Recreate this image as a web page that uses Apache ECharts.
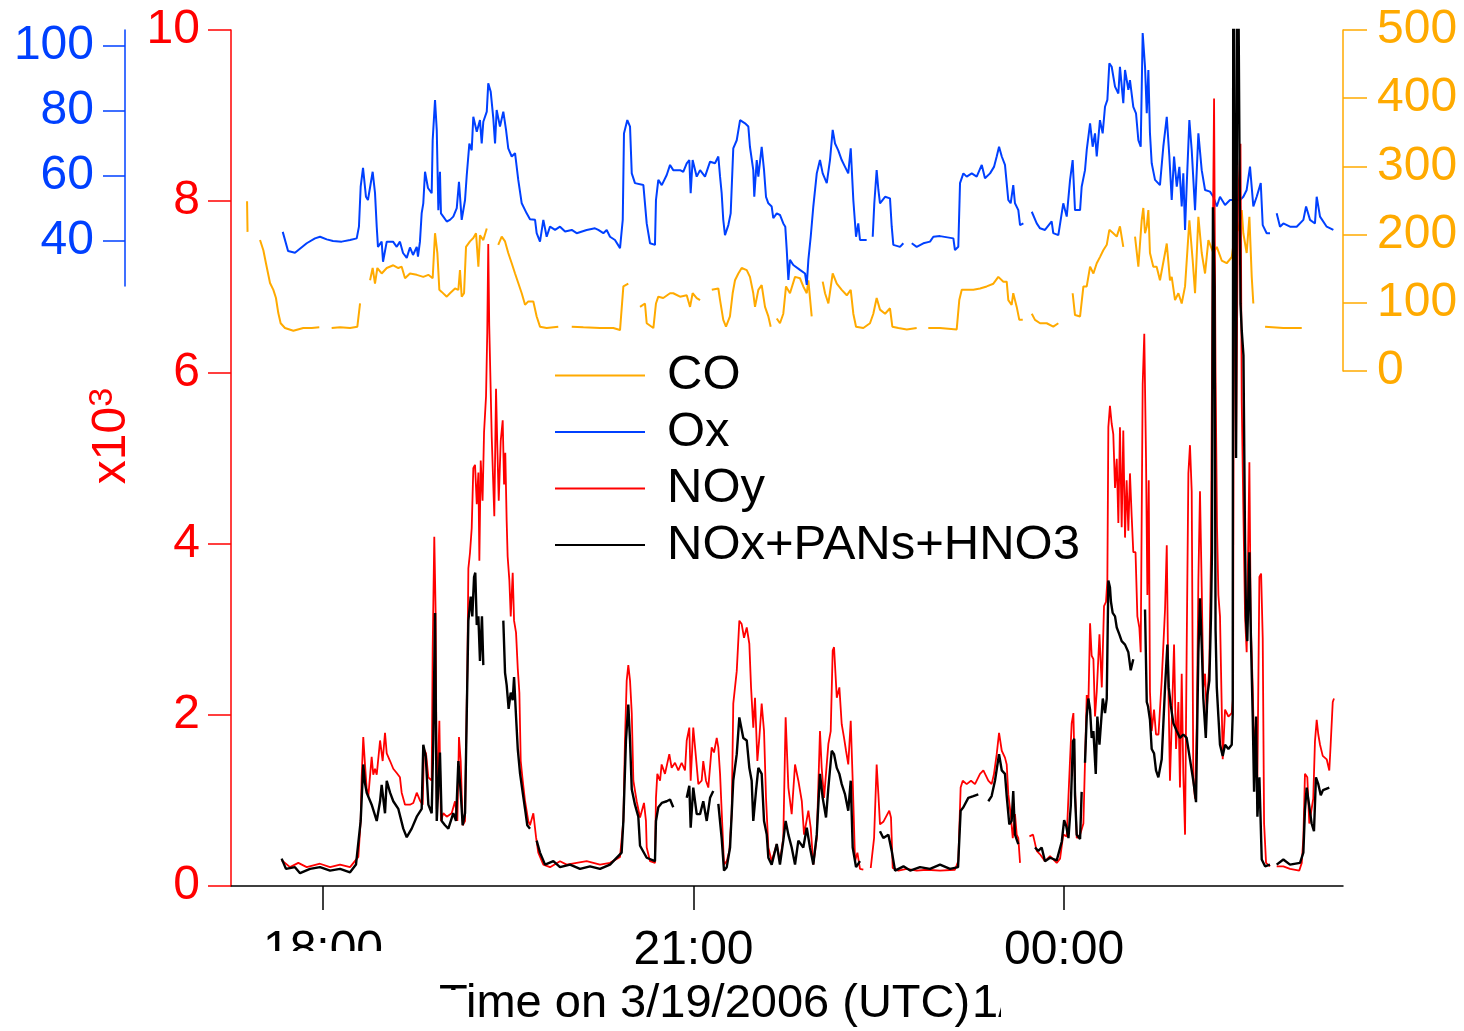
<!DOCTYPE html>
<html><head><meta charset="utf-8">
<script src="https://cdn.jsdelivr.net/npm/echarts@6/dist/echarts.min.js"></script>
<style>html,body{margin:0;padding:0;background:#fff}#c{width:1464px;height:1031px}</style>
</head><body><div id="c"></div>
<script>
// ---- data (time in decimal UTC hours of 3/19/2006; >24 = next day) ----
const xTicks = [18, 21, 24];
const xTickLabels = ['18:00', '21:00', '00:00'];
const noyTicks = [0, 2, 4, 6, 8, 10];
const oxTicks = [40, 60, 80, 100];
const coTicks = [0, 100, 200, 300, 400, 500];
const seriesNames = ['CO', 'Ox', 'NOy', 'NOx+PANs+HNO3'];

// CO (ppbv)
const coData = [[17.385,249],[17.389,204],[17.44,null],[17.490,192],[17.517,177],[17.538,158],[17.571,129],[17.598,119],[17.619,107],[17.638,85],[17.657,70],[17.692,63],[17.760,59],[17.840,63],[17.909,63],[17.970,64],[18.02,null],[18.070,63],[18.138,64],[18.219,63],[18.278,65],[18.300,99],[18.34,null],[18.381,133],[18.402,151],[18.421,128],[18.440,151],[18.475,143],[18.516,151],[18.569,155],[18.610,151],[18.637,153],[18.664,136],[18.704,143],[18.759,141],[18.812,138],[18.853,141],[18.888,136],[18.907,202],[18.926,173],[18.942,119],[18.961,116],[19.002,109],[19.028,114],[19.069,121],[19.096,119],[19.109,148],[19.123,109],[19.142,114],[19.158,182],[19.190,190],[19.217,195],[19.239,202],[19.258,153],[19.271,199],[19.298,192],[19.326,209],[19.37,null],[19.419,185],[19.447,197],[19.474,190],[19.500,173],[19.528,158],[19.555,143],[19.581,129],[19.609,114],[19.636,97],[19.662,102],[19.703,102],[19.730,80],[19.757,65],[19.811,63],[19.905,65],[19.96,null],[20.014,65],[20.108,64],[20.243,63],[20.351,63],[20.405,60],[20.432,124],[20.472,128],[20.52,null],[20.567,94],[20.607,99],[20.621,70],[20.675,63],[20.696,99],[20.715,109],[20.755,107],[20.810,114],[20.836,114],[20.891,109],[20.945,111],[20.972,94],[20.993,114],[21.026,107],[21.053,104],[21.10,null],[21.148,119],[21.201,121],[21.215,104],[21.241,75],[21.263,65],[21.295,80],[21.317,114],[21.336,133],[21.363,143],[21.390,151],[21.431,148],[21.457,138],[21.484,114],[21.498,94],[21.525,119],[21.552,126],[21.579,94],[21.606,80],[21.625,65],[21.65,null],[21.674,77],[21.700,70],[21.727,84],[21.749,124],[21.781,114],[21.822,138],[21.862,136],[21.889,124],[21.917,114],[21.930,133],[21.957,80],[22.00,null],[22.046,131],[22.065,114],[22.092,99],[22.127,143],[22.160,128],[22.200,119],[22.241,111],[22.273,119],[22.294,84],[22.316,65],[22.375,63],[22.429,70],[22.456,84],[22.483,107],[22.510,90],[22.551,84],[22.591,92],[22.610,65],[22.659,63],[22.727,61],[22.807,63],[22.85,null],[22.901,63],[22.996,63],[23.131,61],[23.152,104],[23.172,119],[23.225,119],[23.266,119],[23.320,121],[23.374,124],[23.428,128],[23.468,138],[23.509,131],[23.536,131],[23.549,104],[23.576,97],[23.589,114],[23.617,94],[23.638,75],[23.666,75],[23.70,null],[23.739,84],[23.765,75],[23.806,70],[23.860,70],[23.913,65],[23.954,70],[24.01,null],[24.070,114],[24.089,82],[24.130,80],[24.157,124],[24.184,124],[24.211,153],[24.238,143],[24.265,158],[24.291,167],[24.318,177],[24.346,185],[24.367,207],[24.399,202],[24.427,197],[24.453,212],[24.480,182],[24.53,null],[24.575,197],[24.602,153],[24.629,221],[24.642,239],[24.656,202],[24.670,212],[24.683,236],[24.696,173],[24.723,153],[24.750,153],[24.777,133],[24.818,173],[24.832,187],[24.858,133],[24.872,138],[24.899,104],[24.926,114],[24.953,99],[24.980,124],[25.015,221],[25.042,162],[25.061,114],[25.088,226],[25.115,173],[25.142,143],[25.169,192],[25.209,173],[25.237,182],[25.277,162],[25.317,158],[25.358,167],[25.385,202],[25.412,207],[25.439,236],[25.452,202],[25.479,173],[25.501,226],[25.520,138],[25.533,99],[25.58,null],[25.628,65],[25.776,63],[25.925,63]];

// Ox (ppbv)
const oxData = [[17.674,42.8],[17.717,36.9],[17.773,36.4],[17.868,39.3],[17.935,40.8],[17.976,41.3],[18.030,40.5],[18.081,40],[18.151,39.8],[18.219,40.3],[18.273,40.8],[18.291,44.4],[18.305,56.7],[18.324,62.5],[18.348,53.6],[18.364,52.6],[18.402,61.3],[18.421,54.8],[18.435,44.4],[18.445,38.2],[18.475,39.8],[18.486,33.6],[18.516,39.8],[18.567,39.8],[18.597,38.2],[18.623,39.8],[18.648,36.3],[18.678,34.8],[18.704,38],[18.729,35.7],[18.759,38.2],[18.769,35.2],[18.785,39.8],[18.799,48.6],[18.812,51.6],[18.826,61.3],[18.850,56.3],[18.880,54.7],[18.888,71],[18.907,83.4],[18.921,74.2],[18.934,49.5],[18.947,61.3],[18.955,48.5],[18.974,47.5],[19.002,46],[19.028,46.5],[19.055,47.5],[19.083,50.1],[19.101,58.2],[19.123,46.5],[19.150,52.6],[19.164,60.3],[19.185,70],[19.204,67.9],[19.217,78.2],[19.245,73.6],[19.271,77.2],[19.285,70],[19.298,76.7],[19.326,79.8],[19.338,88.5],[19.358,85.9],[19.379,77.7],[19.393,70],[19.406,80.3],[19.433,75.2],[19.460,79.8],[19.482,74.2],[19.500,68.5],[19.528,66],[19.555,67],[19.581,58.8],[19.609,51.6],[19.649,48.5],[19.676,46.7],[19.717,46.5],[19.730,42.4],[19.757,39.8],[19.784,46.5],[19.811,41.3],[19.838,44.4],[19.879,43.4],[19.919,44.4],[19.960,42.9],[20.014,43.4],[20.054,42.4],[20.135,43.4],[20.202,43.9],[20.229,43.4],[20.270,42.4],[20.297,43.4],[20.324,41.3],[20.364,40.3],[20.405,37.8],[20.427,46.5],[20.437,73.1],[20.464,77.2],[20.486,75.2],[20.500,60.8],[20.526,57.8],[20.594,57.2],[20.607,57.7],[20.621,45.4],[20.648,39.3],[20.688,38.8],[20.696,52.6],[20.715,58.8],[20.743,57.2],[20.783,60.3],[20.810,63.4],[20.836,61.8],[20.891,61.8],[20.917,61.3],[20.945,63.9],[20.966,64.9],[20.977,54.7],[20.993,64.9],[21.026,59.8],[21.053,61.8],[21.093,59.8],[21.134,64.4],[21.174,63.9],[21.201,66],[21.215,59.8],[21.228,54.7],[21.241,46.5],[21.255,41.8],[21.282,44.9],[21.301,48.5],[21.322,68.5],[21.350,71],[21.377,77.2],[21.417,76.2],[21.444,75.2],[21.457,69],[21.484,61.8],[21.492,53.6],[21.512,64.9],[21.525,59.8],[21.552,69],[21.571,61.8],[21.587,53.6],[21.606,51.6],[21.633,50.6],[21.646,47],[21.674,48.5],[21.700,48],[21.727,45.4],[21.743,44.4],[21.755,37.2],[21.768,28],[21.781,34.2],[21.808,32.6],[21.862,31.1],[21.903,30],[21.917,26.5],[21.930,34.2],[21.949,41.3],[21.970,50.6],[21.998,60.8],[22.024,64.9],[22.046,60.8],[22.079,57.8],[22.105,64.9],[22.127,74.2],[22.146,70],[22.172,67.9],[22.200,64.9],[22.227,62.8],[22.253,60.8],[22.273,68.5],[22.294,52.6],[22.316,41.3],[22.334,45.4],[22.348,40.3],[22.402,40.3],[22.43,null],[22.451,41.3],[22.464,51.6],[22.483,61.8],[22.497,55.7],[22.510,51.6],[22.551,53.6],[22.591,53.1],[22.605,44.4],[22.618,38.8],[22.672,38.2],[22.699,39.3],[22.73,null],[22.767,39.3],[22.807,38.2],[22.861,39.3],[22.915,39.8],[22.942,41.3],[22.996,41.5],[23.104,40.8],[23.117,37.2],[23.144,38.2],[23.158,57.8],[23.185,60.8],[23.212,59.8],[23.253,60.8],[23.293,59.8],[23.334,63.4],[23.360,59.3],[23.401,60.8],[23.433,62.8],[23.455,66],[23.474,69],[23.496,66],[23.522,63.4],[23.536,62.8],[23.549,52.6],[23.568,51.6],[23.589,57.2],[23.603,51.6],[23.630,49.5],[23.644,44.9],[23.671,45.4],[23.70,null],[23.739,49],[23.779,45.4],[23.806,43.9],[23.846,43.4],[23.900,46],[23.913,42.4],[23.954,41.8],[23.994,51.6],[24.022,47.5],[24.049,58.8],[24.070,64.9],[24.089,49.5],[24.130,49.5],[24.143,56.7],[24.170,61.8],[24.184,68],[24.211,76.2],[24.232,69],[24.251,73.1],[24.265,66],[24.291,77.2],[24.313,73.1],[24.332,81.3],[24.351,83.4],[24.367,94.7],[24.386,93.6],[24.413,87.5],[24.440,85.4],[24.453,93.6],[24.480,82.4],[24.494,92.6],[24.521,86.5],[24.534,89.5],[24.561,81.3],[24.583,79.3],[24.602,71],[24.621,69],[24.637,104],[24.656,93.6],[24.670,79.3],[24.683,92.6],[24.696,73.1],[24.710,63.9],[24.737,58.8],[24.777,57.2],[24.804,69],[24.832,78.2],[24.853,66],[24.872,52.6],[24.891,66],[24.913,56.7],[24.934,62.8],[24.953,50.6],[24.966,60.8],[24.980,43.4],[24.993,56.7],[25.015,77.2],[25.034,68],[25.061,49.5],[25.088,73.1],[25.115,61.8],[25.142,55.7],[25.182,55.2],[25.209,53.6],[25.237,50.6],[25.263,53.6],[25.304,51.1],[25.344,52.6],[25.385,52.6],[25.425,52.6],[25.452,53.6],[25.479,55.7],[25.506,62.9],[25.533,50.6],[25.560,53.6],[25.593,57.8],[25.609,44.9],[25.641,42.4],[25.668,42.4],[25.69,null],[25.722,48.5],[25.749,44.4],[25.776,45.4],[25.830,44.4],[25.884,44.4],[25.938,46.5],[25.960,50.6],[25.992,46.5],[26.032,45.4],[26.046,53.6],[26.073,47.5],[26.127,44.4],[26.181,43.4]];

// NOy (pptv / 1000)
const noyData = [[17.665,0.30],[17.733,0.22],[17.800,0.27],[17.868,0.22],[17.976,0.26],[18.057,0.22],[18.138,0.25],[18.219,0.22],[18.286,0.34],[18.305,0.76],[18.313,1.27],[18.326,1.74],[18.340,1.42],[18.354,1.13],[18.367,1.05],[18.394,1.51],[18.407,1.30],[18.421,1.37],[18.435,1.30],[18.462,1.70],[18.483,1.46],[18.502,1.79],[18.516,1.55],[18.543,1.46],[18.569,1.37],[18.597,1.32],[18.623,1.27],[18.637,1.09],[18.664,0.95],[18.704,0.95],[18.731,0.97],[18.759,1.09],[18.785,1.00],[18.807,0.95],[18.818,1.60],[18.834,1.55],[18.853,1.27],[18.880,1.23],[18.888,2.77],[18.901,4.08],[18.912,3.19],[18.921,0.90],[18.942,1.93],[18.955,0.76],[18.974,0.85],[19.002,0.81],[19.042,0.85],[19.069,0.99],[19.088,0.76],[19.101,1.74],[19.115,1.46],[19.131,0.71],[19.150,0.76],[19.164,2.16],[19.169,2.54],[19.177,3.71],[19.190,3.89],[19.204,4.18],[19.217,4.88],[19.231,4.92],[19.245,4.46],[19.258,4.83],[19.266,3.80],[19.277,4.97],[19.292,4.50],[19.304,5.30],[19.320,5.72],[19.330,6.47],[19.338,7.50],[19.346,6.55],[19.366,5.25],[19.387,4.32],[19.401,5.81],[19.411,5.16],[19.423,4.50],[19.439,5.20],[19.455,5.44],[19.466,4.69],[19.476,5.06],[19.487,4.27],[19.495,3.85],[19.509,3.57],[19.520,3.15],[19.536,3.66],[19.547,3.10],[19.563,2.96],[19.577,2.54],[19.590,2.26],[19.601,1.46],[19.617,1.23],[19.636,0.99],[19.662,0.76],[19.676,0.71],[19.703,0.85],[19.725,0.57],[19.743,0.39],[19.784,0.25],[19.838,0.22],[19.919,0.29],[19.973,0.25],[20.054,0.27],[20.135,0.29],[20.243,0.25],[20.324,0.27],[20.405,0.34],[20.432,0.76],[20.445,1.70],[20.459,2.40],[20.472,2.58],[20.486,2.40],[20.500,2.02],[20.513,1.23],[20.540,0.99],[20.567,0.80],[20.599,0.97],[20.615,0.76],[20.621,0.45],[20.648,0.29],[20.688,0.27],[20.696,1.03],[20.707,1.31],[20.729,1.23],[20.742,1.42],[20.769,1.31],[20.804,1.54],[20.823,1.38],[20.850,1.44],[20.877,1.35],[20.904,1.44],[20.931,1.35],[20.945,1.70],[20.966,1.85],[20.977,1.23],[20.998,1.85],[21.020,1.50],[21.039,1.19],[21.066,1.23],[21.079,1.46],[21.101,1.23],[21.120,1.15],[21.147,1.62],[21.166,1.56],[21.188,1.73],[21.201,1.62],[21.215,1.31],[21.228,0.88],[21.247,0.25],[21.269,0.29],[21.290,0.41],[21.309,0.84],[21.322,2.13],[21.350,2.51],[21.371,3.10],[21.390,3.06],[21.409,2.90],[21.431,3.02],[21.452,2.83],[21.466,2.32],[21.484,1.85],[21.498,2.20],[21.517,1.46],[21.533,1.73],[21.552,2.13],[21.571,1.81],[21.587,1.03],[21.606,0.45],[21.633,0.29],[21.674,0.49],[21.700,0.29],[21.727,0.56],[21.746,1.97],[21.768,1.15],[21.795,0.84],[21.822,1.42],[21.849,1.23],[21.877,0.99],[21.895,0.60],[21.930,0.88],[21.949,0.68],[21.970,0.25],[21.998,0.56],[22.024,1.81],[22.038,1.38],[22.057,1.03],[22.092,1.66],[22.111,1.81],[22.127,2.75],[22.138,2.79],[22.160,2.20],[22.181,2.32],[22.200,1.89],[22.219,1.73],[22.235,1.58],[22.253,1.42],[22.273,1.93],[22.289,1.23],[22.308,0.29],[22.327,0.39],[22.348,0.20],[22.375,0.19],[22.40,null],[22.435,0.21],[22.462,0.56],[22.483,1.42],[22.497,1.07],[22.510,0.72],[22.537,0.75],[22.585,0.88],[22.599,0.80],[22.613,0.21],[22.659,0.18],[22.727,0.20],[22.807,0.18],[22.888,0.19],[22.996,0.18],[23.117,0.19],[23.144,0.29],[23.163,1.15],[23.180,1.23],[23.212,1.19],[23.247,1.23],[23.279,1.19],[23.320,1.31],[23.347,1.35],[23.387,1.23],[23.414,1.19],[23.433,1.31],[23.455,1.54],[23.474,1.79],[23.496,1.58],[23.522,1.50],[23.536,1.42],[23.549,1.07],[23.568,0.84],[23.585,0.56],[23.603,0.84],[23.617,0.60],[23.630,0.56],[23.644,0.27],[23.68,null],[23.720,0.58],[23.749,0.60],[23.779,0.41],[23.806,0.37],[23.846,0.29],[23.887,0.35],[23.941,0.27],[23.968,0.32],[23.994,0.60],[24.022,0.58],[24.049,1.48],[24.062,1.90],[24.076,2.02],[24.089,1.15],[24.103,0.56],[24.130,0.60],[24.157,0.73],[24.184,2.23],[24.197,2.10],[24.211,3.07],[24.224,2.69],[24.238,2.65],[24.251,1.98],[24.265,2.27],[24.287,2.94],[24.306,2.32],[24.324,3.27],[24.340,3.32],[24.351,3.57],[24.359,5.36],[24.372,5.61],[24.386,5.40],[24.399,5.28],[24.413,4.65],[24.427,4.99],[24.440,4.24],[24.453,5.36],[24.467,4.19],[24.480,5.32],[24.494,4.07],[24.507,4.74],[24.521,4.15],[24.534,4.82],[24.548,4.32],[24.561,3.90],[24.579,3.90],[24.594,3.15],[24.610,3.02],[24.621,2.73],[24.637,5.86],[24.650,6.45],[24.664,5.00],[24.675,3.40],[24.686,4.74],[24.696,2.27],[24.710,1.81],[24.729,2.06],[24.745,1.77],[24.765,1.77],[24.791,2.40],[24.818,3.23],[24.832,3.98],[24.845,2.32],[24.858,1.23],[24.872,1.90],[24.891,2.82],[24.907,1.60],[24.926,2.15],[24.939,1.15],[24.953,2.48],[24.966,1.31],[24.980,0.60],[24.993,2.73],[25.007,4.82],[25.020,5.15],[25.034,4.61],[25.047,1.23],[25.061,1.02],[25.075,1.90],[25.088,3.57],[25.101,4.61],[25.115,3.49],[25.128,2.32],[25.142,2.48],[25.155,2.02],[25.177,2.61],[25.190,3.90],[25.202,7.00],[25.215,9.20],[25.227,6.00],[25.239,4.20],[25.250,3.40],[25.263,3.15],[25.285,1.48],[25.304,2.06],[25.331,1.98],[25.358,2.02],[25.369,2.20],[25.377,9.00],[25.393,5.00],[25.409,8.00],[25.429,8.67],[25.439,5.66],[25.452,4.40],[25.466,3.15],[25.479,2.73],[25.501,4.95],[25.512,3.07],[25.528,2.32],[25.539,1.60],[25.555,1.90],[25.566,1.27],[25.582,3.61],[25.596,3.65],[25.609,2.90],[25.620,0.73],[25.636,0.27],[25.668,0.23],[25.69,null],[25.722,0.23],[25.776,0.23],[25.830,0.20],[25.905,0.18],[25.925,0.27],[25.938,0.56],[25.951,1.31],[25.970,1.27],[25.986,0.73],[26.018,1.02],[26.032,1.69],[26.046,1.94],[26.059,1.77],[26.073,1.65],[26.095,1.52],[26.127,1.48],[26.148,1.35],[26.159,1.65],[26.176,2.15],[26.186,2.19]];

// NOx+PANs+HNO3 (pptv / 1000)
const sumData = [[17.665,0.32],[17.700,0.20],[17.773,0.22],[17.814,0.15],[17.895,0.20],[17.976,0.22],[18.057,0.18],[18.138,0.20],[18.219,0.16],[18.267,0.25],[18.305,0.76],[18.326,1.42],[18.340,1.20],[18.354,1.09],[18.394,0.95],[18.435,0.76],[18.462,0.99],[18.475,1.18],[18.502,0.85],[18.516,1.23],[18.543,1.09],[18.569,0.99],[18.610,0.90],[18.650,0.67],[18.678,0.57],[18.718,0.67],[18.759,0.81],[18.799,0.90],[18.812,1.65],[18.832,1.51],[18.853,0.95],[18.880,0.85],[18.893,1.70],[18.907,3.19],[18.921,0.76],[18.947,1.56],[18.961,0.76],[18.988,0.71],[19.015,0.67],[19.055,0.85],[19.077,0.76],[19.096,1.46],[19.115,1.09],[19.131,0.71],[19.150,0.85],[19.164,2.02],[19.177,3.10],[19.196,3.38],[19.209,3.15],[19.223,3.61],[19.233,3.66],[19.245,3.05],[19.258,3.15],[19.271,2.63],[19.287,3.15],[19.298,2.58],[19.37,null],[19.460,3.10],[19.474,2.49],[19.487,2.35],[19.503,2.07],[19.520,2.26],[19.536,2.17],[19.547,2.44],[19.563,1.98],[19.577,1.60],[19.595,1.32],[19.617,1.09],[19.636,0.90],[19.654,0.71],[19.676,0.67],[19.70,null],[19.730,0.53],[19.757,0.39],[19.798,0.25],[19.865,0.29],[19.919,0.22],[20.000,0.25],[20.081,0.20],[20.162,0.23],[20.243,0.20],[20.324,0.25],[20.418,0.39],[20.432,0.76],[20.453,1.70],[20.472,2.12],[20.486,1.70],[20.500,1.13],[20.526,0.95],[20.553,0.81],[20.567,0.47],[20.621,0.33],[20.688,0.29],[20.696,0.76],[20.715,0.92],[20.743,0.97],[20.783,0.99],[20.810,1.01],[20.836,0.92],[20.89,null],[20.945,1.03],[20.966,1.17],[20.977,0.68],[20.998,1.15],[21.026,0.84],[21.053,0.84],[21.079,0.99],[21.107,0.76],[21.134,1.03],[21.160,1.11],[21.18,null],[21.201,0.96],[21.228,0.56],[21.247,0.18],[21.269,0.22],[21.296,0.45],[21.322,1.23],[21.350,1.54],[21.371,1.97],[21.403,1.73],[21.431,1.70],[21.452,1.38],[21.471,1.23],[21.484,0.76],[21.506,1.11],[21.525,1.38],[21.552,1.31],[21.571,0.76],[21.593,0.60],[21.606,0.33],[21.633,0.25],[21.674,0.49],[21.700,0.25],[21.727,0.53],[21.746,0.76],[21.768,0.60],[21.795,0.45],[21.822,0.25],[21.849,0.53],[21.889,0.45],[21.917,0.68],[21.943,0.45],[21.970,0.25],[21.998,0.60],[22.024,1.31],[22.046,1.03],[22.073,0.80],[22.092,1.15],[22.119,1.58],[22.138,1.54],[22.160,1.38],[22.181,1.31],[22.200,1.19],[22.227,1.07],[22.253,0.88],[22.273,1.23],[22.289,0.45],[22.316,0.22],[22.348,0.29],[22.43,null],[22.510,0.64],[22.537,0.56],[22.578,0.60],[22.605,0.41],[22.632,0.18],[22.700,0.23],[22.754,0.18],[22.834,0.22],[22.915,0.20],[22.996,0.25],[23.077,0.20],[23.142,0.22],[23.163,0.88],[23.185,0.92],[23.225,1.03],[23.266,1.05],[23.306,1.07],[23.35,null],[23.387,0.99],[23.414,1.05],[23.441,1.23],[23.474,1.54],[23.496,1.35],[23.522,1.31],[23.536,1.05],[23.557,0.72],[23.576,0.76],[23.589,1.11],[23.603,0.60],[23.630,0.49],[23.70,null],[23.765,0.45],[23.792,0.41],[23.819,0.45],[23.846,0.29],[23.887,0.33],[23.941,0.30],[23.982,0.52],[24.001,0.77],[24.018,0.70],[24.036,0.56],[24.055,0.94],[24.072,1.69],[24.083,1.72],[24.089,1.06],[24.103,0.60],[24.130,0.55],[24.143,1.10],[24.155,null],[24.170,1.44],[24.184,1.98],[24.197,2.19],[24.211,2.06],[24.224,1.73],[24.238,1.81],[24.257,1.31],[24.270,1.98],[24.287,1.65],[24.314,2.19],[24.332,2.02],[24.346,2.19],[24.359,3.57],[24.372,3.49],[24.380,3.32],[24.394,3.19],[24.413,3.15],[24.427,3.02],[24.448,2.94],[24.467,2.86],[24.494,2.82],[24.521,2.73],[24.540,2.52],[24.561,2.65],[24.60,null],[24.656,3.23],[24.670,2.15],[24.680,2.10],[24.696,1.94],[24.710,1.60],[24.729,1.55],[24.745,1.35],[24.764,1.27],[24.791,1.48],[24.818,2.32],[24.837,2.82],[24.848,2.32],[24.864,2.11],[24.886,1.90],[24.913,1.81],[24.939,1.73],[24.966,1.77],[24.993,1.73],[25.020,1.48],[25.047,1.23],[25.069,0.98],[25.088,2.73],[25.101,3.36],[25.115,2.82],[25.128,2.19],[25.148,1.73],[25.161,2.23],[25.177,2.40],[25.190,3.15],[25.198,3.90],[25.206,7.93],[25.219,7.00],[25.227,3.00],[25.237,2.32],[25.250,1.98],[25.263,1.65],[25.285,1.52],[25.304,1.65],[25.331,1.60],[25.358,1.65],[25.366,2.00],[25.371,12],[25.385,12],[25.393,5.0],[25.405,12],[25.421,12],[25.429,6.8],[25.439,6.49],[25.453,6.2],[25.466,4.0],[25.474,3.1],[25.484,2.86],[25.501,3.90],[25.514,2.86],[25.528,1.98],[25.539,1.10],[25.555,1.98],[25.566,0.81],[25.582,1.27],[25.601,0.31],[25.628,0.23],[25.668,0.25],[25.69,null],[25.722,0.25],[25.776,0.31],[25.830,0.25],[25.911,0.27],[25.938,0.39],[25.951,0.89],[25.965,1.15],[25.984,0.95],[26.005,0.73],[26.024,0.64],[26.040,1.27],[26.059,1.19],[26.079,1.06],[26.097,1.12],[26.113,1.10],[26.148,1.15]];

// ---- styling ----
const FONT = '"Liberation Sans", Arial, Helvetica, sans-serif';
const C_CO = '#ffaa00', C_OX = '#0040ff', C_NOY = '#ff0000', C_SUM = '#000000';
const X_MIN = 17.255, X_MAX = 26.259;
const toPairs = d => d.map(p => [p[0], p[1] === null ? '-' : p[1]]);

const chart = echarts.init(document.getElementById('c'), null, {renderer: 'canvas'});
const hiddenX = (gi) => ({type: 'value', gridIndex: gi, min: X_MIN, max: X_MAX, show: false});
const lineSeries = (name, data, color, width, xi, yi, z) => ({
  name, type: 'line', data: toPairs(data), xAxisIndex: xi, yAxisIndex: yi,
  showSymbol: false, symbol: 'none', connectNulls: false, z,
  lineStyle: {color, width}, itemStyle: {color}, emphasis: {disabled: true}
});

chart.setOption({
  animation: false,
  backgroundColor: '#ffffff',
  textStyle: {fontFamily: FONT},
  grid: [
    {left: 231, right: 121, top: 30, bottom: 145, outerBoundsMode: 'none'},
    {left: 231, right: 121, top: 30, height: 256, outerBoundsMode: 'none'},
    {left: 231, right: 121, top: 30, height: 341, outerBoundsMode: 'none'}
  ],
  xAxis: [
    {
      type: 'value', gridIndex: 0, min: X_MIN, max: X_MAX,
      axisLine: {show: true, lineStyle: {color: '#000', width: 1.5}},
      axisTick: {show: true, customValues: xTicks, length: 24, lineStyle: {color: '#000', width: 1.5}},
      axisLabel: {customValues: xTicks, formatter: v => xTickLabels[xTicks.indexOf(v)],
        margin: 41, fontSize: 48, color: '#000', fontFamily: FONT},
      splitLine: {show: false}
    },
    hiddenX(1), hiddenX(2)
  ],
  yAxis: [
    {
      type: 'value', gridIndex: 0, min: 0, max: 10, interval: 2, position: 'left',
      axisLine: {show: true, lineStyle: {color: C_NOY, width: 1.5}},
      axisTick: {show: true, length: 23, lineStyle: {color: C_NOY, width: 1.5}},
      axisLabel: {customValues: noyTicks, margin: 31, fontSize: 48, color: C_NOY, fontFamily: FONT},
      splitLine: {show: false},
      name: 'x10{s|3}', nameLocation: 'middle', nameRotate: 90, nameGap: 90,
      nameTextStyle: {color: C_NOY, fontSize: 48, fontFamily: FONT, padding: [0, 0, 0, 44],
        rich: {s: {fontSize: 34, color: C_NOY, fontFamily: FONT, verticalAlign: 'top', lineHeight: 52}}}
    },
    {
      type: 'value', gridIndex: 1, min: 26.15, max: 104.92, position: 'left', offset: 106,
      axisLine: {show: true, lineStyle: {color: C_OX, width: 1.5}},
      axisTick: {show: true, customValues: oxTicks, length: 22, lineStyle: {color: C_OX, width: 1.5}},
      axisLabel: {customValues: oxTicks, margin: 31, fontSize: 48, color: C_OX, fontFamily: FONT},
      splitLine: {show: false}
    },
    {
      type: 'value', gridIndex: 2, min: 0, max: 500, interval: 100, position: 'right',
      axisLine: {show: true, lineStyle: {color: C_CO, width: 1.5}},
      axisTick: {show: true, length: 24, lineStyle: {color: C_CO, width: 1.5}},
      axisLabel: {customValues: coTicks, margin: 34, fontSize: 48, color: C_CO, fontFamily: FONT},
      splitLine: {show: false}
    }
  ],
  legend: {
    orient: 'vertical', left: 550, top: 346, selectedMode: false,
    data: seriesNames, icon: 'rect', itemWidth: 90, itemHeight: 2, itemGap: 7.5,
    textStyle: {fontSize: 49, lineHeight: 49, color: '#000', fontFamily: FONT, padding: [0, 0, 0, 17]}
  },
  graphic: [
    {type: 'text', z: 50, x: 439, y: 1004,
      style: {text: 'Time on 3/19/2006 (UTC)', fontSize: 47, fontFamily: FONT, fill: '#000', align: 'left', verticalAlign: 'middle'}},
    {type: 'text', z: 50, x: 972, y: 1004,
      style: {text: '1/', fontSize: 47, fontFamily: FONT, fill: '#000', align: 'left', verticalAlign: 'middle'}},
    {type: 'rect', z: 60, shape: {x: 436, y: 990, width: 30, height: 40}, style: {fill: '#fff'}},
    {type: 'rect', z: 60, shape: {x: 1001, y: 975, width: 30, height: 56}, style: {fill: '#fff'}},
    {type: 'rect', z: 60, shape: {x: 250, y: 951, width: 150, height: 28}, style: {fill: '#fff'}}
  ],
  series: [
    lineSeries(seriesNames[0], coData, C_CO, 2, 2, 2, 2),
    lineSeries(seriesNames[1], oxData, C_OX, 2, 1, 1, 3),
    lineSeries(seriesNames[2], noyData, C_NOY, 1.8, 0, 0, 4),
    lineSeries(seriesNames[3], sumData, C_SUM, 2.4, 0, 0, 5)
  ]
});
</script>
</body></html>
